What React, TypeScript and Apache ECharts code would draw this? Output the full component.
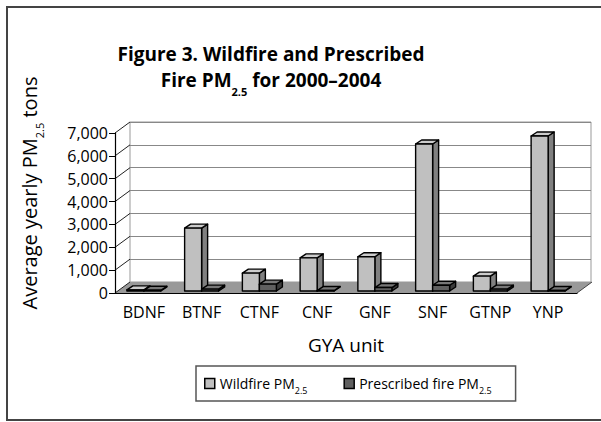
import React, { useEffect, useRef } from "react";
import * as echarts from "echarts";

const categories = ["BDNF", "BTNF", "CTNF", "CNF", "GNF", "SNF", "GTNP", "YNP"];
const wildfire = [50, 2750, 780, 1450, 1500, 6430, 650, 6780];
const prescribed = [30, 80, 300, 20, 150, 250, 80, 20];
const yTicks = [0, 1000, 2000, 3000, 4000, 5000, 6000, 7000];
const seriesNames = ["Wildfire PM2.5", "Prescribed fire PM2.5"];

const FONT = '"Open Sans", "Noto Sans", sans-serif';
const DX = 15;
const DY = -11;
const BAR_W = 17;
const BAR_DX = 6;
const BAR_DY = -4;
const BAR_LIFT = -2;

const wildColors = { front: "#c0c0c0", top: "#cccccc", side: "#808080" };
const presColors = { front: "#606060", top: "#777777", side: "#3c3c3c" };

function makeBarRender(left: boolean, colors: { front: string; top: string; side: string }) {
  return (params: any, api: any) => {
    const ci = api.value(0);
    const v = api.value(1);
    const c = api.coord([ci, 0]);
    const t = api.coord([ci, v]);
    const x0 = left ? c[0] - BAR_W : c[0];
    const x1 = x0 + BAR_W;
    const yb = c[1] + BAR_LIFT;
    const yt = t[1] + BAR_LIFT;
    const st = { stroke: "#000", lineWidth: 1.4, lineJoin: "round" };
    return {
      type: "group",
      children: [
        {
          type: "polygon",
          shape: { points: [[x1, yt], [x1 + BAR_DX, yt + BAR_DY], [x1 + BAR_DX, yb + BAR_DY], [x1, yb]] },
          style: { fill: colors.side, ...st },
        },
        {
          type: "polygon",
          shape: { points: [[x0, yt], [x0 + BAR_DX, yt + BAR_DY], [x1 + BAR_DX, yt + BAR_DY], [x1, yt]] },
          style: { fill: colors.top, ...st },
        },
        {
          type: "rect",
          shape: { x: x0, y: yt, width: BAR_W, height: Math.max(yb - yt, 0.5) },
          style: { fill: colors.front, ...st },
        },
      ],
    };
  };
}

function subRich(size: number, pad: number, bold = false) {
  return { fontFamily: FONT, fontSize: size, fontWeight: bold ? "bold" : "normal", color: "#000", padding: [pad, 0, 0, 0] };
}

export default function App() {
  const ref = useRef<HTMLDivElement>(null);
  useEffect(() => {
    if (!ref.current) return;
    const chart = echarts.init(ref.current, null, { renderer: "svg" });
    const option: any = {
      animation: false,
      backgroundColor: "#fff",
      title: {
        text: "Figure 3. Wildfire and Prescribed\nFire PM{sub|2.5} for 2000–2004",
        left: 266,
        top: 36,
        textAlign: "center",
        textStyle: {
          fontFamily: FONT,
          fontSize: 19,
          fontWeight: "bold",
          color: "#000",
          lineHeight: 26,
          rich: { sub: { ...subRich(11, 22, true), lineHeight: 26 } },
        },
      },
      legend: {
        data: seriesNames,
        left: 196,
        top: 366,
        padding: [6, 24, 6, 8],
        itemWidth: 10,
        itemHeight: 10,
        itemGap: 36,
        icon: "rect",
        borderColor: "#555",
        borderWidth: 1.5,
        itemStyle: { borderColor: "#000", borderWidth: 1.5 },
        formatter: (name: string) => name.replace("PM2.5", "PM{sub|2.5}"),
        textStyle: {
          fontFamily: FONT,
          fontSize: 14,
          color: "#000",
          lineHeight: 16,
          rich: { sub: { ...subRich(9, 14), lineHeight: 16 } },
        },
      },
      graphic: [
        {
          type: "rect",
          shape: { x: 7, y: 7, width: 640, height: 413 },
          style: { fill: "none", stroke: "#444", lineWidth: 2 },
          z: 0,
        },
        {
          type: "text",
          x: 29,
          y: 193,
          rotation: Math.PI / 2,
          style: {
            text: "Average yearly PM{sub|2.5} tons",
            align: "center",
            verticalAlign: "middle",
            fontFamily: FONT,
            fontSize: 20,
            fill: "#000",
            lineHeight: 24,
            rich: { sub: { ...subRich(11, 20), lineHeight: 24 } },
          },
        },
      ],
      grid: [
        { left: 115, right: 24, top: 133, bottom: 129, show: false },
        { left: 130, right: 10, top: 122, bottom: 140, show: true, borderColor: "#999", borderWidth: 1, backgroundColor: "transparent" },
      ],
      xAxis: [
        {
          type: "category",
          gridIndex: 0,
          data: categories,
          z: 5,
          axisLine: { lineStyle: { color: "#000", width: 1.2 } },
          axisTick: { length: 5, lineStyle: { color: "#000" } },
          axisLabel: { fontFamily: FONT, fontSize: 16, color: "#000", margin: 11 },
          name: "GYA unit",
          nameLocation: "middle",
          nameGap: 42,
          nameTextStyle: { fontFamily: FONT, fontSize: 19, color: "#000" },
        },
        { type: "category", gridIndex: 1, data: categories, show: false },
      ],
      yAxis: [
        {
          type: "value",
          gridIndex: 0,
          min: 0,
          max: 7000,
          interval: 1000,
          z: 5,
          axisLine: { show: true, lineStyle: { color: "#000", width: 1.2 } },
          axisTick: { show: true, length: 6, lineStyle: { color: "#000" } },
          splitLine: { show: false },
          axisLabel: {
            fontFamily: FONT,
            fontSize: 16,
            color: "#000",
            margin: 7,
            formatter: (v: number) => v.toLocaleString("en-US"),
          },
        },
        {
          type: "value",
          gridIndex: 1,
          min: 0,
          max: 7000,
          interval: 1000,
          axisLine: { show: false },
          axisTick: { show: false },
          axisLabel: { show: false },
          splitLine: { show: true, lineStyle: { color: "#888", width: 1 } },
        },
      ],
      series: [
        {
          type: "custom",
          name: "decor",
          xAxisIndex: 0,
          yAxisIndex: 0,
          z: 1,
          silent: true,
          data: [[0, 0]],
          encode: { x: 0, y: 1 },
          renderItem: (params: any, api: any) => {
            const cs = params.coordSys;
            const xl = cs.x;
            const xr = cs.x + cs.width;
            const yb = cs.y + cs.height;
            const children: any[] = [
              {
                type: "polygon",
                shape: { points: [[xl, yb], [xr, yb], [xr + DX, yb + DY], [xl + DX, yb + DY]] },
                style: { fill: "#999999", stroke: "none" },
              },
              {
                type: "line",
                shape: { x1: xr, y1: yb, x2: xr + DX, y2: yb + DY },
                style: { stroke: "#444", lineWidth: 1 },
              },
            ];
            yTicks.forEach((v) => {
              const p = api.coord([0, v]);
              children.push({
                type: "line",
                shape: { x1: xl, y1: p[1], x2: xl + DX, y2: p[1] + DY },
                style: { stroke: "#222", lineWidth: 1 },
              });
            });
            return { type: "group", children };
          },
        },
        {
          type: "custom",
          name: seriesNames[0],
          xAxisIndex: 0,
          yAxisIndex: 0,
          z: 2,
          itemStyle: { color: wildColors.front, borderColor: "#000", borderWidth: 1.5 },
          data: wildfire.map((v, i) => [i, v]),
          encode: { x: 0, y: 1 },
          renderItem: makeBarRender(true, wildColors),
        },
        {
          type: "custom",
          name: seriesNames[1],
          xAxisIndex: 0,
          yAxisIndex: 0,
          z: 2,
          itemStyle: { color: presColors.front, borderColor: "#000", borderWidth: 1.5 },
          data: prescribed.map((v, i) => [i, v]),
          encode: { x: 0, y: 1 },
          renderItem: makeBarRender(false, presColors),
        },
      ],
    };
    chart.setOption(option);
    return () => chart.dispose();
  }, []);
  return <div ref={ref} style={{ position: "absolute", left: 0, top: 0, width: 601, height: 422 }} />;
}
